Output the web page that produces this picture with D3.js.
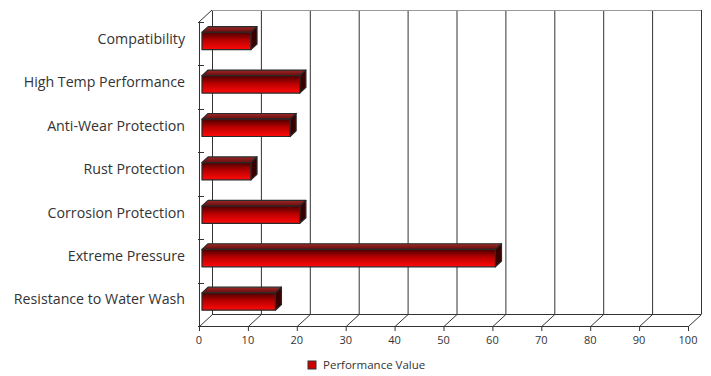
<!DOCTYPE html>
<html>
<head>
<meta charset="utf-8">
<script src="https://cdn.jsdelivr.net/npm/d3@7"></script>
<style>
body { margin: 0; background: #fff; }
text { font-family: "Open Sans", "Noto Sans", sans-serif; fill: #333; }
</style>
</head>
<body>
<div id="chart"></div>
<script>
// data
const categories = ["Compatibility", "High Temp Performance", "Anti-Wear Protection", "Rust Protection",
  "Corrosion Protection", "Extreme Pressure", "Resistance to Water Wash"];
const values = [10, 20, 18, 10, 20, 60, 15];
const xTicks = [0, 10, 20, 30, 40, 50, 60, 70, 80, 90, 100];
const seriesName = "Performance Value";

const width = 711, height = 376;
const depthX = 13, depthY = 12; // 3d offset of the back wall

const svg = d3.select("#chart").append("svg")
  .attr("width", width).attr("height", height);

// front plane scales
const xScale = d3.scaleLinear().domain([0, 100]).range([199, 688]);
const yScale = d3.scaleBand().domain(categories).range([22, 326]);

// project a point at depth z (0 = front, 1 = back wall)
const px = (x, z) => x + z * depthX;
const py = (y, z) => y - z * depthY;

const defs = svg.append("defs");
const grad = defs.append("linearGradient").attr("id", "barFront")
  .attr("x1", 0).attr("y1", 0).attr("x2", 0).attr("y2", 1);
grad.append("stop").attr("offset", "0%").attr("stop-color", "#4a0000");
grad.append("stop").attr("offset", "45%").attr("stop-color", "#b80000");
grad.append("stop").attr("offset", "100%").attr("stop-color", "#ff0a0a");
const gradTop = defs.append("linearGradient").attr("id", "barTop")
  .attr("x1", 0).attr("y1", 0).attr("x2", 0).attr("y2", 1);
gradTop.append("stop").attr("offset", "0%").attr("stop-color", "#9a2a2a");
gradTop.append("stop").attr("offset", "100%").attr("stop-color", "#6a0a0a");

const y0 = yScale.range()[0], y1 = yScale.range()[1];
const xMin = xScale(0), xMax = xScale(100);

//back wall gridlines
const grid = svg.append("g").attr("stroke", "#333").attr("stroke-width", 1).attr("fill", "none");
grid.selectAll(".vgrid").data(xTicks).join("line")
  .attr("x1", d => px(xScale(d), 1) + 0.5).attr("x2", d => px(xScale(d), 1) + 0.5)
  .attr("y1", py(y0, 1)).attr("y2", py(y1, 1));
grid.append("line").attr("stroke", "#999")
  .attr("x1", px(xMin, 1)).attr("x2", px(xMax, 1))
  .attr("y1", py(y0, 1) + 0.5).attr("y2", py(y0, 1) + 0.5);
// floor
grid.append("line")
  .attr("x1", px(xMin, 1)).attr("x2", px(xMax, 1))
  .attr("y1", py(y1, 1) + 0.5).attr("y2", py(y1, 1) + 0.5);
grid.selectAll(".floor").data(xTicks).join("line")
  .attr("x1", d => xScale(d) + 0.5).attr("y1", y1 + 0.5)
  .attr("x2", d => px(xScale(d), 1) + 0.5).attr("y2", py(y1, 1) + 0.5);
// left wall
grid.append("line").attr("x1", xMin + 0.5).attr("x2", xMin + 0.5).attr("y1", y0).attr("y2", y1);
grid.append("line").attr("x1", xMin).attr("y1", y0).attr("x2", px(xMin, 1)).attr("y2", py(y0, 1));
const catEdges = categories.map(c => yScale(c)).concat([y1]);
grid.selectAll(".ctick").data(catEdges).join("line")
  .attr("x1", xMin - 1).attr("x2", xMin + 5)
  .attr("y1", d => Math.round(d) + 0.5).attr("y2", d => Math.round(d) + 0.5);
// front x axis
grid.append("line").attr("x1", xMin).attr("x2", xMax).attr("y1", y1 + 0.5).attr("y2", y1 + 0.5);
grid.selectAll(".xtick").data(xTicks).join("line")
  .attr("x1", d => xScale(d) + 0.5).attr("x2", d => xScale(d) + 0.5)
  .attr("y1", y1).attr("y2", y1 + 5);

svg.append("g").selectAll("text").data(xTicks).join("text")
  .attr("x", d => xScale(d)).attr("y", y1 + 18)
  .attr("text-anchor", "middle").attr("font-size", 11)
  .text(d => d);

// category labels
svg.append("g").selectAll("text").data(categories).join("text")
  .attr("x", 185).attr("y", d => py(yScale(d) + yScale.bandwidth() / 2, 0.4))
  .attr("dy", "0.35em").attr("text-anchor", "end").attr("font-size", 14.2)
  .text(d => d);

// bars
const zf = 0.23, zb = 0.7;
const barH = yScale.bandwidth() * 0.4;
const bars = svg.append("g").selectAll("g").data(categories.map((c, i) => ({c, v: values[i]}))).join("g")
  .attr("stroke", "#2a2a2a").attr("stroke-width", 1.2).attr("stroke-linejoin", "round");
const pt = (x, y, z) => [px(x, z), py(y, z)].join(",");
bars.each(function(d) {
  const g = d3.select(this);
  const xa = xScale(0), xb = xScale(d.v);
  const ya = yScale(d.c) + (yScale.bandwidth() - barH) / 2, yb = ya + barH;
  g.append("polygon").attr("fill", "url(#barTop)")
    .attr("points", [pt(xa, ya, zf), pt(xb, ya, zf), pt(xb, ya, zb), pt(xa, ya, zb)].join(" "));
  g.append("polygon").attr("fill", "#3a0000")
    .attr("points", [pt(xb, ya, zf), pt(xb, ya, zb), pt(xb, yb, zb), pt(xb, yb, zf)].join(" "));
  g.append("rect").attr("fill", "url(#barFront)")
    .attr("x", px(xa, zf)).attr("y", py(ya, zf))
    .attr("width", xb - xa).attr("height", barH);
});

// legend
const legend = svg.append("g").attr("transform", "translate(308, 361)");
legend.append("rect").attr("width", 8).attr("height", 8)
  .attr("fill", "#d00000").attr("stroke", "#333");
legend.append("text").attr("x", 15).attr("y", 4).attr("dy", "0.35em")
  .attr("font-size", 11.5).text(seriesName);
</script>
</body>
</html>
